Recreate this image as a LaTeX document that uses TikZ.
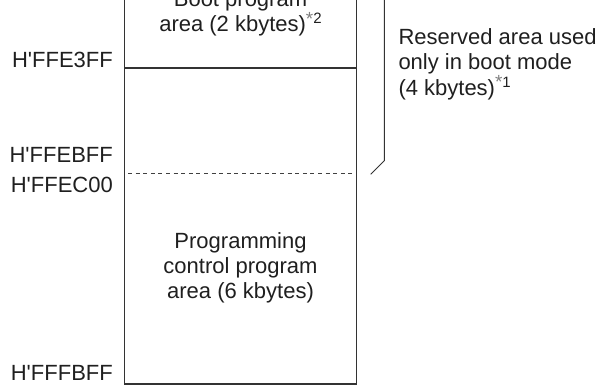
\documentclass[tikz,border=0pt]{standalone}
\usepackage{fontspec}
\setmainfont{Liberation Sans}
\begin{document}
\begin{tikzpicture}[x=1pt,y=-1pt,
  ink/.style={draw=black!80, line width=1.1pt},
  txt/.style={text=black!88, font=\fontsize{22}{25.5}\selectfont, inner sep=0pt},
  addr/.style={txt, anchor=base east},
  boxtext/.style={txt, align=center, anchor=base}]
\newcommand{\fnm}[1]{\raisebox{8pt}{\fontsize{15}{15}\selectfont\textcolor{black!50}{\raisebox{-1.5pt}{\fontsize{19}{19}\selectfont*}}#1}}
\newcommand{\q}{\textquotesingle}
\useasboundingbox (0,0) rectangle (605,385);
\clip (0,0) rectangle (605,385);
% memory map outline
\coordinate (tl) at (124.3,-40);
\coordinate (br) at (356.7,384);
\draw[ink] (tl) rectangle (br);
\coordinate (sl) at (124.3,68);
\coordinate (sr) at (356.7,68);
\draw[ink] (sl) -- (sr);
\coordinate (dl) at (128,173.3);
\coordinate (dr) at (352,173.3);
\draw[draw=black!75, line width=1pt, dash pattern=on 4pt off 3.6pt] (dl) -- (dr);
% bracket
\coordinate (b0) at (384.3,-5);
\coordinate (b1) at (384.3,160.7);
\coordinate (b2) at (370.7,174.3);
\draw[draw=black!80, line width=1pt] (b0) -- (b1) -- (b2);
% texts
\node[boxtext] (boot1) at (240.5,6.7) {Boot program};
\node[boxtext] (boot2) at (240.5,31.7) {area (2 kbytes)\fnm{2}};
\node[boxtext] (p1) at (240.5,248.3) {Programming};
\node[boxtext] (p2) at (240.5,273.3) {control program};
\node[boxtext] (p3) at (240.5,298.3) {area (6 kbytes)};
\node[addr] (a1) at (113,67.5) {H\q FFE3FF};
\node[addr] (a2) at (113,162.7) {H\q FFEBFF};
\node[addr] (a3) at (113,192.7) {H\q FFEC00};
\node[addr] (a4) at (113,380) {H\q FFFBFF};
\node[txt, anchor=base west] (r1) at (398.3,44.3) {Reserved area used};
\node[txt, anchor=base west] (r2) at (398.3,70) {only in boot mode};
\node[txt, anchor=base west] (r3) at (398.3,95.5) {(4 kbytes)\fnm{1}};
\end{tikzpicture}
\end{document}
